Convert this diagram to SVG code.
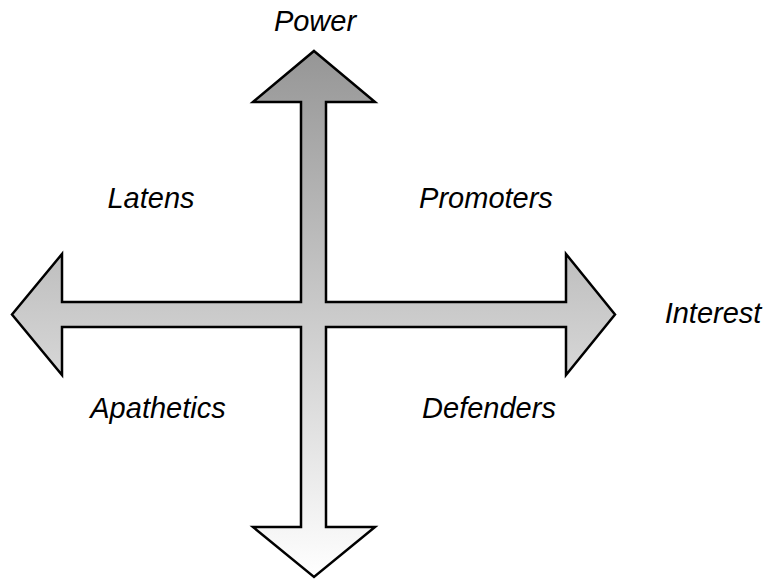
<svg xmlns="http://www.w3.org/2000/svg" width="768" height="580" viewBox="0 0 768 580">
<style>
.lbl{font-family:"Liberation Sans",Arial,sans-serif;font-style:italic;font-size:29px;fill:#000;text-anchor:middle}
</style>
<defs>
<linearGradient id="g" gradientUnits="userSpaceOnUse" x1="0" y1="51" x2="0" y2="577">
<stop offset="0" stop-color="#969696"/>
<stop offset="1" stop-color="#ffffff"/>
</linearGradient>
</defs>
<rect width="768" height="580" fill="#fff"/>
<g id="cross">
<path d="M314,51 L375,102 L326,102 L326,302 L566,302 L566,254 L615,314.5 L566,375 L566,327 L326,327 L326,527 L375,527 L314,577 L253,527 L301,527 L301,327 L62,327 L62,375 L12,314.5 L62,254 L62,302 L301,302 L301,102 L253,102 Z" fill="url(#g)" stroke="#000" stroke-width="2.5" stroke-linejoin="miter"/>
</g>
<g id="labels">
<text class="lbl" x="315" y="31">Power</text>
<text class="lbl" x="713" y="323">Interest</text>
<text class="lbl" x="151" y="208">Latens</text>
<text class="lbl" x="486" y="208">Promoters</text>
<text class="lbl" x="158" y="418">Apathetics</text>
<text class="lbl" x="489" y="418">Defenders</text>
</g>
</svg>
